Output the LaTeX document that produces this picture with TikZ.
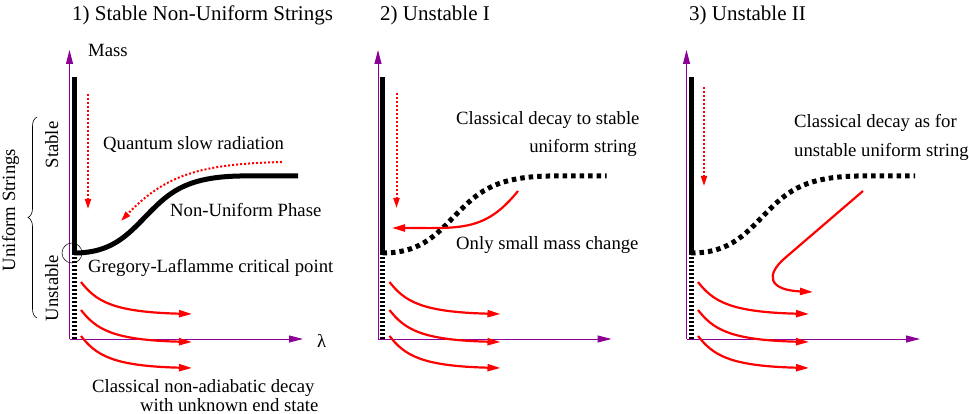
\documentclass[tikz,border=0pt]{standalone}
\usepackage{fontspec}
\setmainfont{Liberation Serif}
\usetikzlibrary{arrows.meta,decorations.pathreplacing}
\definecolor{axisc}{RGB}{140,0,150}
\begin{document}
\begin{tikzpicture}[x=1pt,y=-1pt,
  axis/.style={draw=axisc,line width=1pt,-{Triangle[length=14pt,width=7pt]}},
  stab/.style={line width=5pt},
  unst/.style={line width=5pt,dash pattern=on 2pt off 2pt},
  ncurve/.style={line width=5pt},
  ncurvedash/.style={line width=5pt,dash pattern=on 4.5pt off 4pt},
  redarr/.style={draw=red,line width=2.2pt,-{Triangle[length=13pt,width=7pt]}},
  reddot/.style={draw=red,line width=2pt,dash pattern=on 2pt off 2pt,-{Triangle[length=10pt,width=6pt]}},
  lbl/.style={anchor=base west,inner sep=0pt,font=\fontsize{18.7}{22}\selectfont},
  lble/.style={anchor=base east,inner sep=0pt,font=\fontsize{18.7}{22}\selectfont},
  rlbl/.style={anchor=base,inner sep=0pt,rotate=90,font=\fontsize{18.7}{22}\selectfont},
  ttl/.style={anchor=base west,inner sep=0pt,font=\fontsize{21}{25}\selectfont}
]
\useasboundingbox (0,0) rectangle (969,414);

% ---------- common panel elements ----------
\foreach \p/\dx in {1/0,2/308.5,3/617}{
  \begin{scope}[xshift=\dx pt]
    \coordinate (o\p) at (69.5,339);
    \coordinate (yt\p) at (69.5,50);
    \coordinate (xt\p) at (303,339);
    \draw[axis] (o\p) -- (yt\p);
    \draw[axis] (o\p) -- (xt\p);
    \coordinate (st\p) at (74,77);
    \coordinate (gl\p) at (74,253);
    \coordinate (bt\p) at (74,339);
    \draw[unst] (gl\p) -- (bt\p);
    \draw[stab] (st\p) -- (gl\p);
    \foreach \k/\yy in {a/282,b/310,c/336}{
      \coordinate (rs\p\k) at (81,\yy);
      \coordinate (re\p\k) at (192,\yy+32);
      \draw[redarr] (rs\p\k) .. controls +(15,19) and +(-80,-2) .. (re\p\k);
    }
  \end{scope}
}

% ---------- non-uniform phase curves ----------
\coordinate (c1m) at (152,210);
\coordinate (c1e) at (298,176);
\draw[ncurve] (gl1) .. controls (115,253) and (130,232) .. (c1m)
  .. controls (172,190) and (190,177) .. (240,176) -- (c1e);
\begin{scope}[xshift=308.5pt]
  \coordinate (c2m) at (152,210);
  \coordinate (c2e) at (298,176);
  \draw[ncurvedash] (gl2) .. controls (115,253) and (130,232) .. (c2m)
    .. controls (172,190) and (190,177) .. (240,176) -- (c2e);
\end{scope}
\begin{scope}[xshift=617pt]
  \coordinate (c3m) at (152,210);
  \coordinate (c3e) at (298,176);
  \draw[ncurvedash] (gl3) .. controls (115,253) and (130,232) .. (c3m)
    .. controls (172,190) and (190,177) .. (240,176) -- (c3e);
\end{scope}

% ---------- red dotted arrows ----------
\coordinate (d1s) at (88,94);   \coordinate (d1e) at (88,209);
\coordinate (d2s) at (396.5,93); \coordinate (d2e) at (396.5,208);
\coordinate (d3s) at (704,87);  \coordinate (d3e) at (704,186);
\draw[reddot] (d1s) -- (d1e);
\draw[reddot] (d2s) -- (d2e);
\draw[reddot] (d3s) -- (d3e);
\coordinate (qs) at (282,162);
\coordinate (qe) at (121,221);
\draw[reddot] (qs) .. controls (200,164) and (165,175) .. (qe);

% ---------- red classical decays ----------
\coordinate (u2s) at (518,191);
\coordinate (u2e) at (392,228);
\draw[redarr] (u2s) .. controls (485,232) and (460,228) .. (u2e);
\coordinate (u3s) at (863,191);
\coordinate (u3m) at (785,258);
\coordinate (u3e) at (813,292);
\draw[redarr] (u3s) -- (u3m) .. controls (765.5,274.75) and (768,290) .. (u3e);

% ---------- Gregory-Laflamme point ----------
\node[draw,circle,minimum size=20pt,inner sep=0pt,line width=0.5pt] (glc) at (72,253) {};

% ---------- brace and rotated labels ----------
\coordinate (bb) at (37,318);
\coordinate (bu) at (37,117);
\draw[line width=0.6pt,decorate,decoration={brace,amplitude=9pt}] (bb) -- (bu);
\node[rlbl] (unif) at (15,210) {Uniform Strings};
\node[rlbl] (stbl) at (58,145) {Stable};
\node[rlbl] (unstbl) at (58,288) {Unstable};

% ---------- titles and labels ----------
\node[ttl] (t1) at (72,21) {1) Stable Non-Uniform Strings};
\node[ttl] (t2) at (380,21) {2) Unstable I};
\node[ttl] (t3) at (689,21) {3) Unstable II};
\node[lbl] (mass) at (88,57) {Mass};
\node[lbl] (lam) at (317,347) {λ};
\node[lbl] (quant) at (103,150) {Quantum slow radiation};
\node[lbl] (nup) at (170,217) {Non-Uniform Phase};
\node[lbl] (glt) at (88,272) {Gregory-Laflamme critical point};
\node[lbl] (cl1) at (92,392) {Classical non-adiabatic decay};
\node[lbl] (cl2) at (140,411) {with unknown end state};
\node[lbl] (cd1) at (456,125) {Classical decay to stable};
\node[lble] (cd2) at (637,153) {uniform string};
\node[lbl] (sm) at (456,250) {Only small mass change};
\node[lbl] (ca1) at (794,128) {Classical decay as for};
\node[lbl] (ca2) at (794,157) {unstable uniform string};
\end{tikzpicture}
\end{document}
